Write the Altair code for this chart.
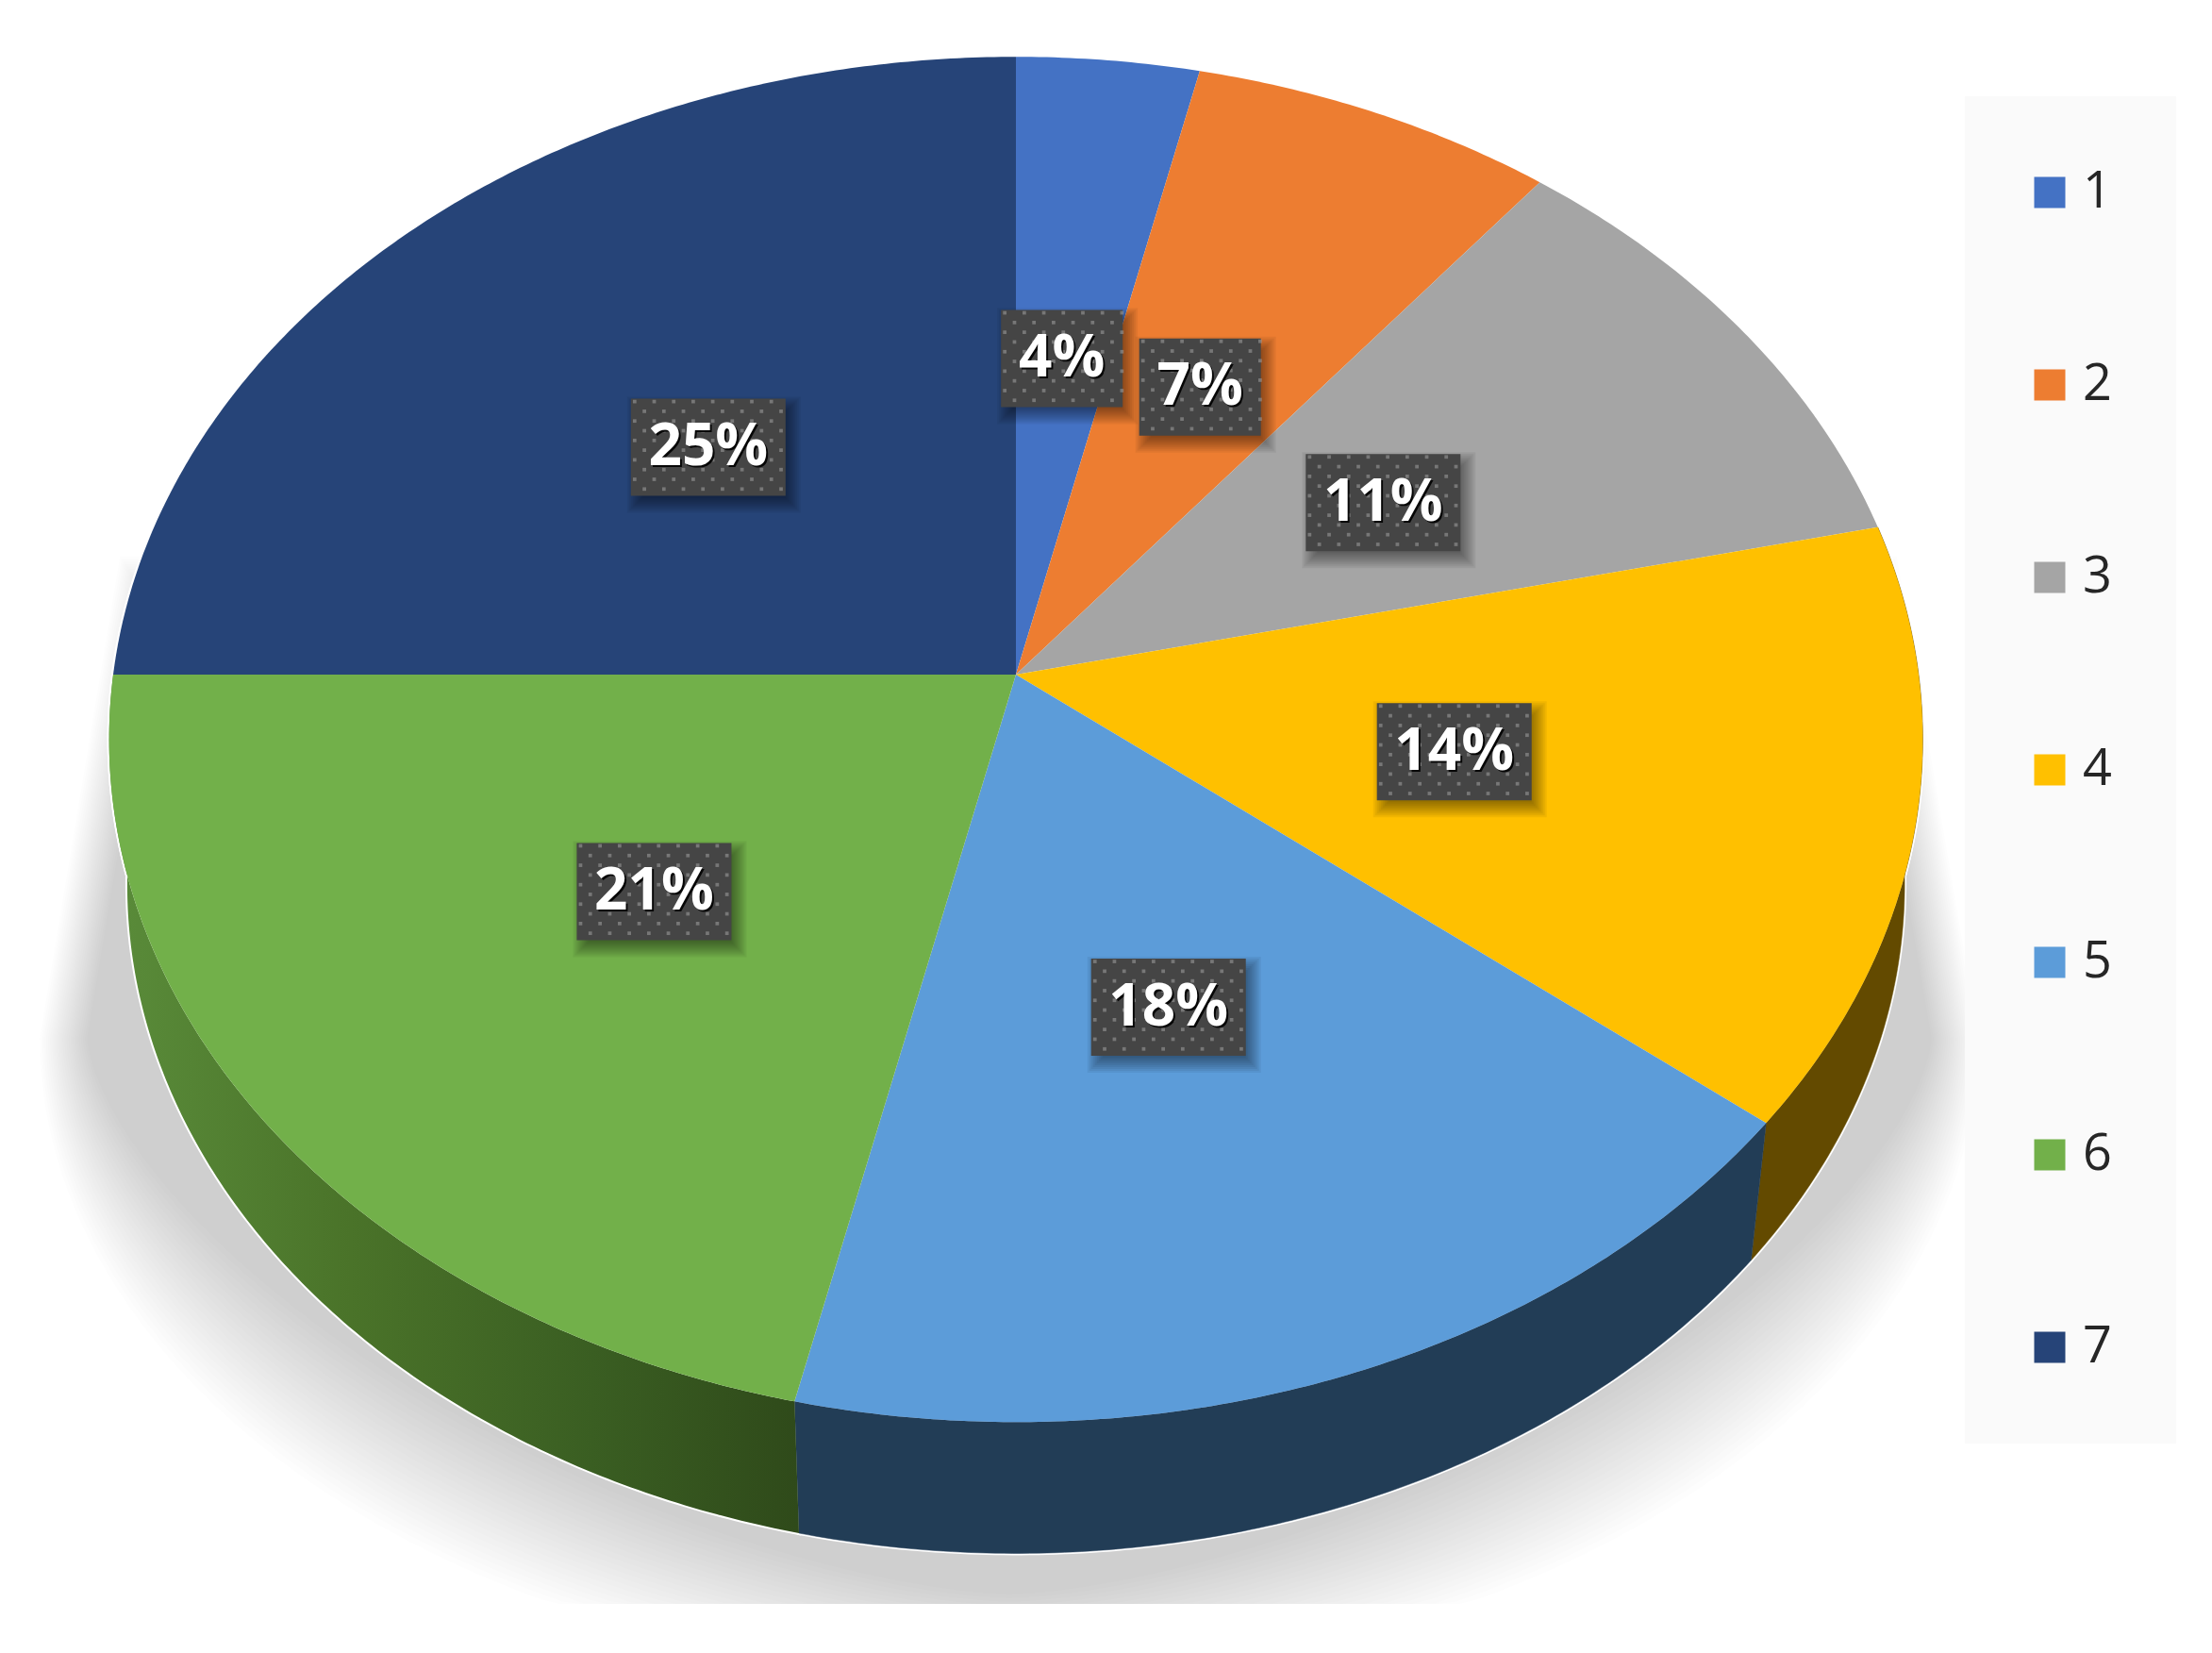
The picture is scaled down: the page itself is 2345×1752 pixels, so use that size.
import numpy as np
import pandas as pd
import altair as alt

# ---- data ----
categories = ["1", "2", "3", "4", "5", "6", "7"]
values = [1, 2, 3, 4, 5, 6, 7]
top_colors = ["#4472c4", "#ed7d31", "#a5a5a5", "#ffc000", "#5c9cd9", "#72b04a", "#264478"]
side_colors = {"4": "#634a00", "5": "#223d56"}
side_gradient_stops = [("#5a8c3a", 0.0), ("#4a7329", 0.35), ("#3a5e22", 0.7), ("#2f4a1a", 1.0)]
shadow_grey_total = 0.196

W, H = 2329, 1736          # plot area
PAGE = 8                   # page margin
APEX = (1077.0, 715.0)     # where the slices meet on the top face
A, B, K = 957.0, 717.0, 0.095   # perspective of the disc
LOW_Y, LOW_S = 870.0, 0.98      # lower rim of the disc


def project(frac, r=1.0, apex_y=APEX[1], s=1.0):
    t = np.asarray(frac) * 2 * np.pi
    X, Y = r * np.sin(t), -r * np.cos(t)
    d = 1 - K * Y
    return APEX[0] + s * A * X / d - PAGE, apex_y + s * B * Y / d - PAGE


total = sum(values)
cum = np.concatenate([[0], np.cumsum(values)]) / total


def arc(a, b, **kw):
    n = max(2, int((b - a) * 720))
    x, y = project(np.linspace(a, b, n), **kw)
    return [[float(p), float(q)] for p, q in zip(x, y)]


def feature(ring, **props):
    ring = ring + [ring[0]]
    return {"type": "Feature", "properties": props,
            "geometry": {"type": "Polygon", "coordinates": [ring]}}


apex_px = [APEX[0] - PAGE, APEX[1] - PAGE]
top_features = [feature([apex_px] + arc(cum[i], cum[i + 1]), slice=categories[i])
                for i in range(len(values))]
side_features = {categories[i]: feature(arc(cum[i], cum[i + 1]) +
                                        arc(cum[i], cum[i + 1], apex_y=LOW_Y, s=LOW_S)[::-1],
                                        slice=categories[i])
                 for i in range(len(values))}
rim_features = [side_features[c] for c in categories] + top_features

proj = dict(type="identity", scale=1, translate=[0, 0])
xs = alt.Scale(domain=[0, W], range=[0, W])
ys = alt.Scale(domain=[0, H], range=[0, H])
X = lambda f="x": alt.X(f"{f}:Q", scale=xs, axis=None)
Y = lambda f="y": alt.Y(f"{f}:Q", scale=ys, axis=None)


# ---- soft floor shadow, built from nested outlines ----
def shadow_ring(k):
    cx, cy = 1070 - PAGE, 1100 - PAGE
    rx, ry = 1028 - 50 * k, 680 - 90 * k
    t = np.radians(np.linspace(0, 180, 160))
    e = 2 / (2.0 - 0.45 * k)
    c = np.cos(t)
    x = cx + rx * np.sign(c) * np.abs(c) ** e
    y = np.minimum(cy + ry * np.clip(np.sin(t), 0, 1) ** e, 1700 - PAGE)
    pts = [[float(p), float(q)] for p, q in zip(x, y)]
    top = 590 - PAGE + 60 * k
    return [[2011 - PAGE - 40 * k, top]] + pts + [[127 - PAGE + 40 * k, top]]


N_SHADOW = 24
shadow_alpha = 1 - (1 - shadow_grey_total) ** (1 / N_SHADOW)
shadow = alt.Chart(alt.Data(values=[feature(shadow_ring(k / (N_SHADOW - 1)), k=k)
                                    for k in range(N_SHADOW)])).mark_geoshape(
    fill="black", fillOpacity=shadow_alpha, strokeWidth=0).project(**proj)

# ---- legend panel ----
panel = alt.Chart(pd.DataFrame({"x": [2083 - PAGE], "x2": [2307 - PAGE],
                                "y": [102 - PAGE], "y2": [1530 - PAGE]})).mark_rect(
    fill="#fafafa").encode(x=X(), x2="x2:Q", y=Y(), y2="y2:Q")

# ---- white rim, sides, top ----
rim = alt.Chart(alt.Data(values=rim_features)).mark_geoshape(
    fill="white", stroke="white", strokeWidth=4).project(**proj)

sides = []
for c, col in side_colors.items():
    sides.append(alt.Chart(alt.Data(values=[side_features[c]])).mark_geoshape(
        fill=col, stroke=col, strokeWidth=0.5).project(**proj))
sides.append(alt.Chart(alt.Data(values=[side_features["6"]])).mark_geoshape(
    fill=alt.Gradient(gradient="linear", x1=0, x2=1, y1=0, y2=0,
                      stops=[alt.GradientStop(color=c, offset=o) for c, o in side_gradient_stops]),
    strokeWidth=0).project(**proj))

top = alt.Chart(alt.Data(values=top_features)).mark_geoshape(strokeWidth=0).encode(
    color=alt.Color("properties.slice:N",
                    scale=alt.Scale(domain=categories, range=top_colors),
                    legend=alt.Legend(title=None, orient="none", legendX=2146 - PAGE, legendY=177 - PAGE,
                                      symbolType="square", symbolSize=1090, symbolStrokeWidth=0,
                                      symbolOffset=0, labelFont="Open Sans", labelFontSize=54,
                                      labelColor="#262626", labelOffset=8, rowPadding=150,
                                      padding=0, labelLimit=100))
).project(**proj)

# ---- data labels ----
mids = (cum[:-1] + cum[1:]) / 2
lx, ly = project(mids, r=0.495)
labels = pd.DataFrame({
    "x": lx - 2, "y": ly + 2,
    "text": [f"{round(v / total * 100)}%" for v in values],
})
labels["hw"] = labels["text"].str.len().map({2: 64.5, 3: 82.0})
labels["x0"], labels["x1"] = labels["x"] - labels["hw"], labels["x"] + labels["hw"]
labels["y0"], labels["y1"] = labels["y"] - 51.5, labels["y"] + 51.5

shadow_boxes = []
for g in range(10, -8, -2):
    d = labels.assign(a0=labels.x0 + 6 - g, a1=labels.x1 + 6 + g, b0=labels.y0 + 8 - g, b1=labels.y1 + 8 + g)
    shadow_boxes.append(alt.Chart(d).mark_rect(fill="black", opacity=0.055).encode(
        x=X("a0"), x2="a1:Q", y=Y("b0"), y2="b1:Q"))

boxes = alt.Chart(labels).mark_rect(fill="#454545").encode(x=X("x0"), x2="x1:Q", y=Y("y0"), y2="y1:Q")

dots = []
for _, r in labels.iterrows():
    for j, yy in enumerate(np.arange(r.y0 + 3, r.y1, 10.3)):
        for xx in np.arange(r.x0 + 4 + (j % 2) * 10.3, r.x1, 20.7):
            dots.append({"x": float(xx), "y": float(yy)})
dot_layer = alt.Chart(pd.DataFrame(dots)).mark_square(size=14, fill="#9a9a9a", opacity=0.6).encode(
    x=X(), y=Y())

text_base = dict(font="Open Sans", fontWeight="bold", fontSize=62, align="center", baseline="middle")
text_shadow = alt.Chart(labels).mark_text(color="black", dx=2, dy=2, opacity=0.9, **text_base).encode(
    x=X(), y=Y(), text="text:N")
text = alt.Chart(labels).mark_text(color="white", **text_base).encode(x=X(), y=Y(), text="text:N")

chart = alt.layer(shadow, panel, rim, *sides, top, *shadow_boxes, boxes, dot_layer, text_shadow, text).properties(
    width=W, height=H, padding=0, background="white"
).configure_view(stroke=None)

chart.save("out.html", embed_options={"renderer": "svg", "actions": False})
